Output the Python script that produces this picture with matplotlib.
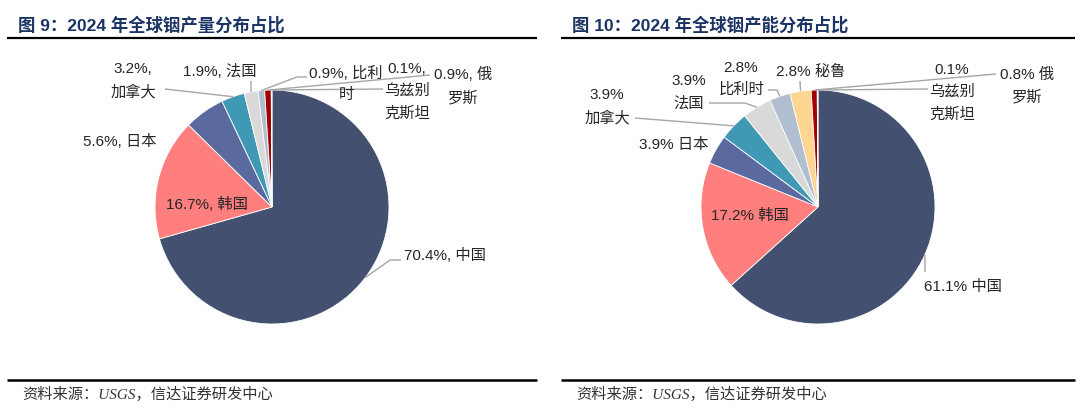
import math
import matplotlib
matplotlib.use('Agg')
import matplotlib.pyplot as plt

plt.rcParams['font.family'] = ['Liberation Sans', 'Noto Sans CJK SC']

W, H = 1080, 415

# data
names_prod = ['中国', '韩国', '日本', '加拿大', '法国', '比利时', '俄罗斯', '乌兹别克斯坦']
share_prod = [70.4, 16.7, 5.6, 3.2, 1.9, 0.9, 0.9, 0.1]

names_cap = ['中国', '韩国', '日本', '加拿大', '法国', '比利时', '秘鲁', '俄罗斯', '乌兹别克斯坦']
share_cap = [61.1, 17.2, 3.9, 3.9, 3.9, 2.8, 2.8, 0.8, 0.1]

palette = {
    '中国': '#44506F', '韩国': '#FF7F7E', '日本': '#5A6A9F', '加拿大': '#4099B4',
    '法国': '#D9D9D9', '比利时': '#B0BED0', '秘鲁': '#FFD592', '俄罗斯': '#A50000',
    '乌兹别克斯坦': '#E8A33D',
}

titles = ['图 9：2024 年全球铟产量分布占比', '图 10：2024 年全球铟产能分布占比']
source = '资料来源：USGS，信达证券研发中心'

# label layout: (text centre in px from top, wrap, leader points from label side)
layout_prod = [
    ((445, 256), None, [(390, 260), (401, 260)]),
    ((207, 204), None, None),
    ((120, 141), None, None),
    ((133, 81), (True, 3), [(165, 89)]),
    ((220, 72), None, [(251, 81)]),
    ((346, 84), (False, 2), [(297, 77), (307, 77)]),
    ((463, 86), (False, 1), [(430, 75)]),
    ((407, 91), (True, 3), [(383, 89)]),
]
layout_cap = [
    ((963, 287), None, [(925, 272)]),
    ((750, 216), None, None),
    ((674, 145), None, None),
    ((607, 107), (True, 3), [(635, 118)]),
    ((689, 92), (True, 2), [(745, 103), (709, 103)]),
    ((741, 79), (True, 3), [(777, 90), (768, 90)]),
    ((811, 72), None, [(800, 81)]),
    ((1027, 86), (False, 1), [(996, 74)]),
    ((952, 92), (True, 3), [(928, 89)]),
]


def make_label(v, n, sep, wrap):
    if wrap is None:
        return '{:.1f}{}{}'.format(v, sep, n)
    prefix_break, k = wrap
    if prefix_break:
        chunks = [n[i:i + k] for i in range(0, len(n), k)]
        return '{:.1f}{}'.format(v, sep.rstrip()) + '\n' + '\n'.join(chunks)
    return '{:.1f}{}{}'.format(v, sep, n[:k]) + '\n' + n[k:]


fig = plt.figure(figsize=(W / 100, H / 100), dpi=100)
ax = fig.add_axes([0, 0, 1, 1])


def draw_pie(names, shares, cx, cy, r, sep, layout):
    wedges, _ = ax.pie(shares, colors=[palette[n] for n in names], startangle=90,
                       counterclock=False, center=(cx, H - cy), radius=r,
                       wedgeprops=dict(edgecolor='white', linewidth=0.6))
    for w, n, v, (pos, wrap, leader) in zip(wedges, names, shares, layout):
        txt = make_label(v, n, sep, wrap)
        ax.text(pos[0], H - pos[1], txt, ha='center', va='center', fontsize=11,
                color='#262626', linespacing=1.7, multialignment='center')
        if leader:
            a = math.radians((w.theta1 + w.theta2) / 2)
            xs = [cx + r * math.cos(a)] + [p[0] for p in leader]
            ys = [H - cy + r * math.sin(a)] + [H - p[1] for p in leader]
            ax.plot(xs, ys, color='#A6A6A6', lw=1.0, solid_capstyle='butt')


draw_pie(names_prod, share_prod, 272, 207, 117, '%, ', layout_prod)
draw_pie(names_cap, share_cap, 818, 207, 117, '% ', layout_cap)

# headers / rules / source
for (x0, x1), t, tx in zip([(7, 537), (561, 1075)], titles, [18, 572]):
    ax.text(tx, H - 25, t, ha='left', va='center', fontsize=12.5, fontweight='bold',
            color='#1B3463')
    ax.plot([x0, x1], [H - 38, H - 38], color='black', lw=1.6, solid_capstyle='butt')
    ax.plot([x0, x1], [H - 380, H - 380], color='black', lw=1.8, solid_capstyle='butt')
    ax.text(tx + 4, H - 394, source, ha='left', va='center', fontsize=11,
            color='#333333', style='italic',
            family=['Liberation Serif', 'Noto Sans CJK SC'])

ax.set_xlim(0, W)
ax.set_ylim(0, H)
ax.set_aspect('auto')
ax.axis('off')

fig.savefig('out.png', dpi=100)
